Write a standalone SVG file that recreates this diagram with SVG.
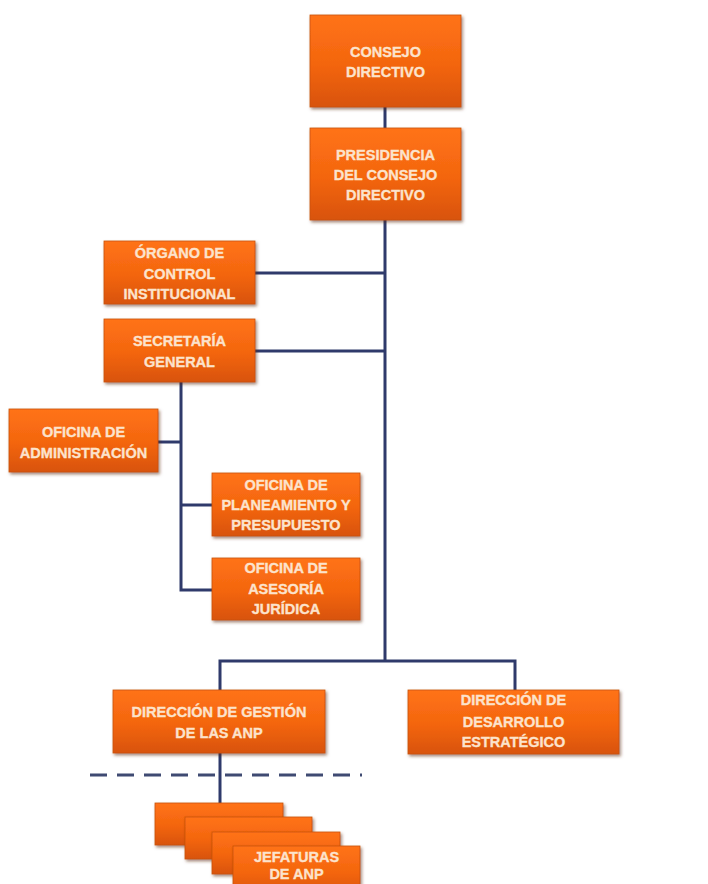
<svg xmlns="http://www.w3.org/2000/svg" width="708" height="884" viewBox="0 0 708 884">
<defs>
<linearGradient id="og" x1="0" y1="0" x2="0" y2="1">
<stop offset="0" stop-color="#FF7316"/>
<stop offset="0.55" stop-color="#F3650F"/>
<stop offset="1" stop-color="#D8530C"/>
</linearGradient>
<filter id="sh" x="-10%" y="-10%" width="125%" height="130%">
<feDropShadow dx="1.5" dy="2" stdDeviation="1.5" flood-color="#5a2a10" flood-opacity="0.55"/>
</filter>
</defs>
<style>
.box{fill:url(#og);stroke:#C85210;stroke-width:0.8;filter:url(#sh)}
.t{font-family:"Liberation Sans",Arial,sans-serif;font-weight:bold;font-size:14.5px;fill:#FCE3CC;stroke:#FCE3CC;stroke-width:0.35;text-anchor:middle}
.c{fill:none;stroke:#2F3A6B;stroke-width:3}
.d{fill:none;stroke:#3F4A72;stroke-width:3;stroke-dasharray:17 10}
</style>
<rect width="708" height="884" fill="#ffffff"/>
<g id="connectors">
<path class="c" d="M385 107V128"/>
<path class="c" d="M385 220V661"/>
<path class="c" d="M255 273H385"/>
<path class="c" d="M255 351H385"/>
<path class="c" d="M220 690V661H515V690"/>
<path class="c" d="M181 382V590H212"/>
<path class="c" d="M158 442H181"/>
<path class="c" d="M181 505H212"/>
<path class="c" d="M220 753V803"/>
<path class="d" d="M90 775H362"/>
</g>
<g id="consejo">
<rect class="box" x="310" y="15" width="151" height="92"/>
<text class="t" x="385.5" y="57">CONSEJO</text>
<text class="t" x="385.5" y="77">DIRECTIVO</text>
</g>
<g id="presidencia">
<rect class="box" x="310" y="128" width="151" height="92"/>
<text class="t" x="385.5" y="160">PRESIDENCIA</text>
<text class="t" x="385.5" y="180">DEL CONSEJO</text>
<text class="t" x="385.5" y="200">DIRECTIVO</text>
</g>
<g id="organo">
<rect class="box" x="104" y="241" width="151" height="63"/>
<text class="t" x="179.5" y="258">ÓRGANO DE</text>
<text class="t" x="179.5" y="279">CONTROL</text>
<text class="t" x="179.5" y="299">INSTITUCIONAL</text>
</g>
<g id="secretaria">
<rect class="box" x="104" y="319" width="151" height="63"/>
<text class="t" x="179.5" y="346">SECRETARÍA</text>
<text class="t" x="179.5" y="367">GENERAL</text>
</g>
<g id="administracion">
<rect class="box" x="9" y="409" width="149" height="63"/>
<text class="t" x="83.5" y="437">OFICINA DE</text>
<text class="t" x="83.5" y="458">ADMINISTRACIÓN</text>
</g>
<g id="planeamiento">
<rect class="box" x="212" y="473" width="148" height="63"/>
<text class="t" x="286" y="490">OFICINA DE</text>
<text class="t" x="286" y="510">PLANEAMIENTO Y</text>
<text class="t" x="286" y="530">PRESUPUESTO</text>
</g>
<g id="asesoria">
<rect class="box" x="212" y="558" width="148" height="62"/>
<text class="t" x="286" y="573">OFICINA DE</text>
<text class="t" x="286" y="594">ASESORÍA</text>
<text class="t" x="286" y="614">JURÍDICA</text>
</g>
<g id="gestion">
<rect class="box" x="113" y="690" width="212" height="63"/>
<text class="t" x="219" y="717">DIRECCIÓN DE GESTIÓN</text>
<text class="t" x="219" y="738">DE LAS ANP</text>
</g>
<g id="desarrollo">
<rect class="box" x="408" y="690" width="211" height="64"/>
<text class="t" x="513.5" y="705">DIRECCIÓN DE</text>
<text class="t" x="513.5" y="727">DESARROLLO</text>
<text class="t" x="513.5" y="747">ESTRATÉGICO</text>
</g>
<g id="jefaturas">
<rect class="box" x="155" y="803" width="128" height="42"/>
<rect class="box" x="185" y="817" width="127" height="42"/>
<rect class="box" x="212" y="832" width="128" height="42"/>
<rect class="box" x="233" y="846" width="127" height="50"/>
<text class="t" x="296.5" y="862">JEFATURAS</text>
<text class="t" x="296.5" y="879">DE ANP</text>
</g>
</svg>
